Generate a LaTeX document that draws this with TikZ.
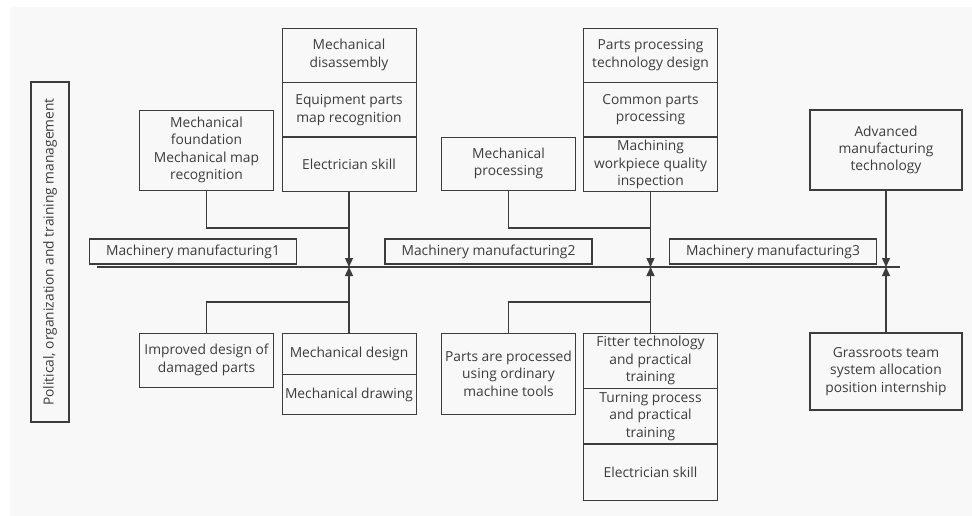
\documentclass[tikz,border=0pt]{standalone}
\usepackage{fontspec}
\setmainfont{Open Sans}
\usepackage{tikz}
\usetikzlibrary{arrows.meta, positioning}
\usepackage{xcolor}
\definecolor{inkgray}{HTML}{3C3C3C}
\definecolor{paper}{HTML}{F8F8F8}

\tikzset{
    cell/.style={draw=inkgray, line width=0.9pt, text=inkgray, align=center, inner sep=0pt,
        minimum width=134pt, font=\fontsize{13.8}{17.4}\selectfont},
    heavycell/.style={cell, line width=1.6pt, minimum width=152pt},
    tag/.style={cell, line width=1.4pt, minimum width=207pt, minimum height=25pt},
    link/.style={draw=inkgray, line width=1.4pt},
}

\begin{document}
\begin{tikzpicture}[x=1pt, y=-1pt, >={Triangle[length=9pt, width=8pt]}]
    \useasboundingbox (0,0) rectangle (972,516);
    \fill[paper] (10,7) rectangle (972,516);

    \node[cell, line width=1.4pt, rotate=90, minimum width=340pt, minimum height=38pt] (politics) at (50,252) {Political, organization and training management};

    % spine
    \coordinate (spine_start) at (97,267);
    \coordinate (spine_end) at (900,267);
    \draw[link] (spine_start) -- (spine_end);
    \node[tag] (stage1) at (193,251.5) {Machinery manufacturing1};
    \node[tag] (stage2) at (488.5,251.5) {Machinery manufacturing2};
    \node[tag] (stage3) at (773,251.5) {Machinery manufacturing3};

    \coordinate (hub1) at (349,267);
    \coordinate (hub2) at (650.5,267);
    \coordinate (hub3) at (886,267);
    \coordinate (bend1_top) at (349,228);
    \coordinate (bend1_bot) at (349,302);
    \coordinate (bend2_top) at (650.5,228);
    \coordinate (bend2_bot) at (650.5,302);

    % upper side
    \node[cell, minimum height=80pt] (foundation) at (206.5,150) {Mechanical\\foundation\\Mechanical map\\recognition};
    \node[cell, minimum height=54pt] (disassembly) at (349,55) {Mechanical\\disassembly};
    \node[cell, minimum height=54pt, below=0pt of disassembly] (parts_map) {Equipment parts\\map recognition};
    \node[cell, minimum height=54pt, below=0pt of parts_map] (electrician1) {Electrician skill};

    \node[cell, minimum height=53pt] (processing) at (508.5,163.5) {Mechanical\\processing};
    \node[cell, minimum height=54pt] (tech_design) at (650.5,55) {Parts processing\\technology design};
    \node[cell, minimum height=54pt, below=0pt of tech_design] (common_parts) {Common parts\\processing};
    \node[cell, minimum height=54pt, below=0pt of common_parts] (inspection) {Machining\\workpiece quality\\inspection};

    \node[heavycell, minimum height=80pt] (advanced) at (886,150) {Advanced\\manufacturing\\technology};

    % lower side
    \node[cell, minimum height=54pt] (improved) at (206.5,360) {Improved design of\\damaged parts};
    \node[cell, minimum height=41pt] (mech_design) at (349,353.5) {Mechanical design};
    \node[cell, minimum height=40pt, below=0pt of mech_design] (mech_drawing) {Mechanical drawing};

    \node[cell, minimum height=81pt] (ordinary) at (508.5,373.5) {Parts are processed\\using ordinary\\machine tools};
    \node[cell, minimum height=55pt] (fitter) at (650.5,360.5) {Fitter technology\\and practical\\training};
    \node[cell, minimum height=55pt, below=0pt of fitter] (turning) {Turning process\\and practical\\training};
    \node[cell, minimum height=56pt, below=0pt of turning] (electrician2) {Electrician skill};

    \node[heavycell, minimum height=77pt] (grassroots) at (886,371.5) {Grassroots team\\system allocation\\position internship};

    \draw[link, ->] (electrician1.south) -- (hub1);
    \draw[link] (foundation.south) |- (bend1_top);
    \draw[link, ->] (mech_design.north) -- (hub1);
    \draw[link] (improved.north) |- (bend1_bot);

    \draw[link, ->] (inspection.south) -- (hub2);
    \draw[link] (processing.south) |- (bend2_top);
    \draw[link, ->] (fitter.north) -- (hub2);
    \draw[link] (ordinary.north) |- (bend2_bot);

    \draw[link, ->] (advanced.south) -- (hub3);
    \draw[link, ->] (grassroots.north) -- (hub3);
\end{tikzpicture}
\end{document}
